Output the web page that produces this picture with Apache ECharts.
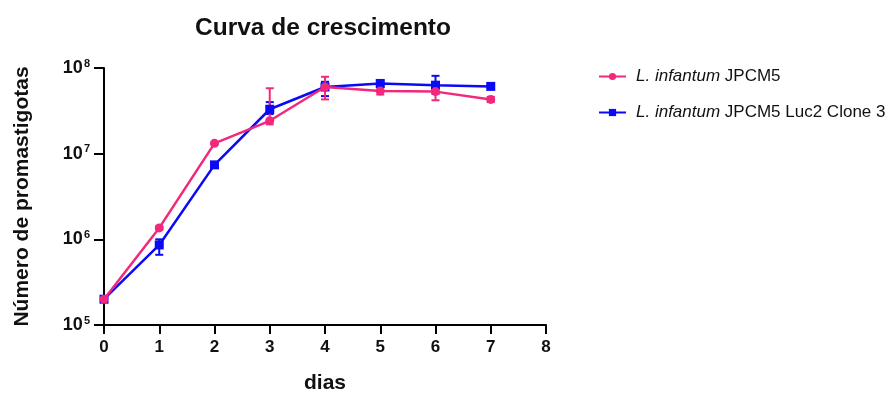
<!DOCTYPE html>
<html><head><meta charset="utf-8">
<script src="https://cdn.jsdelivr.net/npm/echarts@6/dist/echarts.min.js"></script>
<style>html,body{margin:0;padding:0;background:#fff}#c{width:896px;height:394px}</style>
</head><body><div id="c"></div>
<script>
const days = [0, 1, 2, 3, 4, 5, 6, 7];
const xTicks = [0, 1, 2, 3, 4, 5, 6, 7, 8];
const yTicks = [1e5, 1e6, 1e7, 1e8];
const wtName = 'L. infantum JPCM5';
const lucName = 'L. infantum JPCM5 Luc2 Clone 3';
const wtMean = [2.0e5, 1.36e6, 1.32e7, 2.42e7, 6.0e7, 5.4e7, 5.3e7, 4.3e7];
const wtLow  = [2.0e5, 1.30e6, 1.28e7, 2.2e7, 4.3e7, 4.9e7, 4.2e7, 4.0e7];
const wtHigh = [2.0e5, 1.42e6, 1.36e7, 5.8e7, 7.9e7, 5.9e7, 6.2e7, 4.6e7];
const lucMean = [2.0e5, 8.6e5, 7.4e6, 3.3e7, 6.0e7, 6.6e7, 6.3e7, 6.1e7];
const lucLow  = [2.0e5, 6.6e5, 7.1e6, 2.9e7, 4.7e7, 6.3e7, 5.0e7, 5.9e7];
const lucHigh = [2.0e5, 1.0e6, 7.7e6, 4.0e7, 6.9e7, 6.9e7, 8.1e7, 6.3e7];

const PINK = '#F2287C', BLUE = '#0A0AF5';
const FONT = 'Liberation Sans, Arial, sans-serif';

function errData(low, high) { return days.map((d, i) => [d, low[i], high[i]]); }
function errSeries(name, low, high, color) {
  return {
    type: 'custom', name: name + ' (SD)', data: errData(low, high), z: 3,
    renderItem: function (params, api) {
      const x = api.value(0);
      const a = api.coord([x, api.value(1)]);
      const b = api.coord([x, api.value(2)]);
      const w = 4;
      return { type: 'group', children: [
        { type: 'line', shape: { x1: a[0], y1: a[1], x2: b[0], y2: b[1] }, style: { stroke: color, lineWidth: 2 } },
        { type: 'line', shape: { x1: a[0] - w, y1: a[1], x2: a[0] + w, y2: a[1] }, style: { stroke: color, lineWidth: 2 } },
        { type: 'line', shape: { x1: b[0] - w, y1: b[1], x2: b[0] + w, y2: b[1] }, style: { stroke: color, lineWidth: 2 } }
      ]};
    },
    encode: { x: 0, y: [1, 2] }, tooltip: { show: false }
  };
}

const chart = echarts.init(document.getElementById('c'));
chart.setOption({
  animation: false,
  textStyle: { fontFamily: FONT },
  title: { text: 'Curva de crescimento', left: 318, textAlign: 'center', top: 11,
    textStyle: { fontSize: 24.5, fontWeight: 'bold', color: '#111', fontFamily: FONT } },
  legend: {
    orient: 'vertical', left: 593, top: 63, itemGap: 19, itemWidth: 27, itemHeight: 9,
    data: [wtName, lucName],
    textStyle: { fontSize: 17, color: '#111', fontFamily: FONT, padding: [0, 0, 0, 5],
      rich: { i: { fontStyle: 'italic', fontSize: 17, fontFamily: FONT, color: '#111' } } },
    formatter: function (n) { return '{i|L. infantum} ' + n.replace('L. infantum ', ''); }
  },
  grid: { left: 104, right: 350, top: 68, bottom: 69, containLabel: false, outerBoundsMode: 'none' },
  xAxis: {
    type: 'value', min: 0, max: 8, interval: 1,
    name: 'dias', nameLocation: 'middle', nameGap: 48,
    nameTextStyle: { fontSize: 21, fontWeight: 'bold', color: '#111', fontFamily: FONT },
    axisLine: { lineStyle: { color: '#000', width: 2 } },
    axisTick: { length: 9, lineStyle: { color: '#000', width: 2 } },
    axisLabel: { fontSize: 17, fontWeight: 'bold', color: '#111', margin: 14,
      formatter: v => xTicks.includes(v) ? String(v) : '' },
    splitLine: { show: false }
  },
  yAxis: {
    type: 'log', logBase: 10, min: yTicks[0], max: yTicks[yTicks.length - 1],
    name: 'Número de promastigotas', nameLocation: 'middle', nameGap: 71,
    nameTextStyle: { fontSize: 21, fontWeight: 'bold', color: '#111', fontFamily: FONT },
    axisLine: { show: true, lineStyle: { color: '#000', width: 2 } },
    axisTick: { show: true, length: 10, lineStyle: { color: '#000', width: 2 } },
    minorTick: { show: false },
    axisLabel: { color: '#111', margin: 14,
      formatter: v => '{b|10}{s|' + Math.round(Math.log10(v)) + '}',
      rich: { b: { fontSize: 18, fontWeight: 'bold', color: '#111', fontFamily: FONT },
              s: { fontSize: 11, fontWeight: 'bold', color: '#111', verticalAlign: 'top', padding: [0, 0, 9, 1], fontFamily: FONT } } },
    splitLine: { show: false }
  },
  series: [
    errSeries(lucName, lucLow, lucHigh, BLUE),
    { type: 'line', name: lucName, data: days.map((d, i) => [d, lucMean[i]]), z: 4,
      symbol: 'rect', symbolSize: 9, itemStyle: { color: BLUE }, lineStyle: { color: BLUE, width: 2.5 } },
    errSeries(wtName, wtLow, wtHigh, PINK),
    { type: 'line', name: wtName, data: days.map((d, i) => [d, wtMean[i]]), z: 5,
      symbol: 'circle', symbolSize: 9, itemStyle: { color: PINK }, lineStyle: { color: PINK, width: 2.5 } }
  ]
});
</script></body></html>
